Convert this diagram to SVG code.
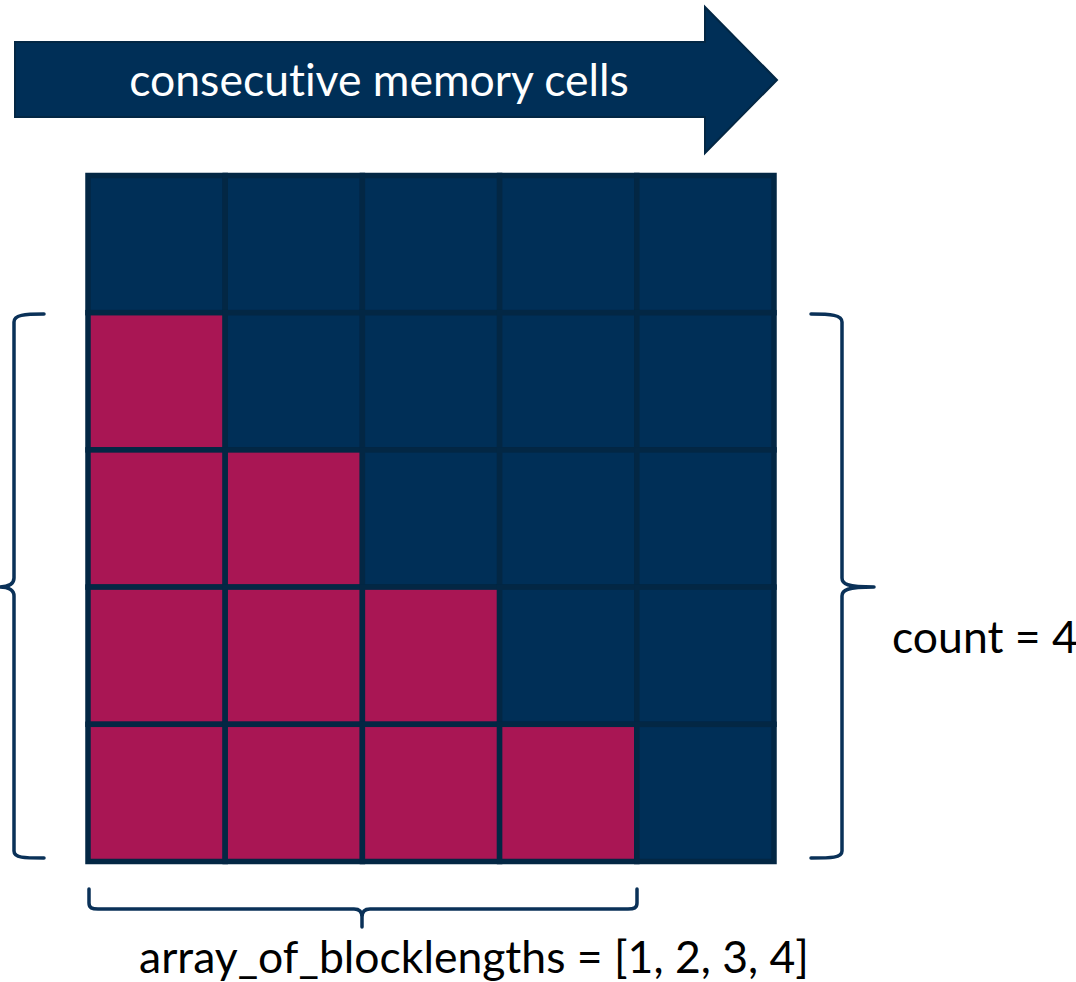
<svg xmlns="http://www.w3.org/2000/svg" width="1076" height="982" viewBox="0 0 1076 982">
<style>
.lbl{font-family:Lato,"Liberation Sans",sans-serif;font-size:44.5px;font-variant-ligatures:none;}
.cell{stroke:#032744;stroke-width:5.5;}
.blue{fill:#002f57;}
.red{fill:#a91654;}
.brace{fill:none;stroke:#0a3158;stroke-width:3.5;stroke-linecap:round;stroke-linejoin:round;}
</style>
<rect width="1076" height="982" fill="#ffffff"/>
<g id="arrow">
<polygon points="15,42 705,42 705,7 777,80 705,153 705,117 15,117" fill="#002f57" stroke="#032744" stroke-width="2"/>
<text class="lbl" x="379" y="96" text-anchor="middle" fill="#ffffff">consecutive memory cells</text>
</g>
<g id="grid">
<rect class="cell blue" x="88" y="175.5" width="137.2" height="137.2"/>
<rect class="cell blue" x="225.2" y="175.5" width="137.2" height="137.2"/>
<rect class="cell blue" x="362.4" y="175.5" width="137.2" height="137.2"/>
<rect class="cell blue" x="499.6" y="175.5" width="137.2" height="137.2"/>
<rect class="cell blue" x="636.8" y="175.5" width="137.2" height="137.2"/>
<rect class="cell red" x="88" y="312.7" width="137.2" height="137.2"/>
<rect class="cell blue" x="225.2" y="312.7" width="137.2" height="137.2"/>
<rect class="cell blue" x="362.4" y="312.7" width="137.2" height="137.2"/>
<rect class="cell blue" x="499.6" y="312.7" width="137.2" height="137.2"/>
<rect class="cell blue" x="636.8" y="312.7" width="137.2" height="137.2"/>
<rect class="cell red" x="88" y="449.9" width="137.2" height="137.2"/>
<rect class="cell red" x="225.2" y="449.9" width="137.2" height="137.2"/>
<rect class="cell blue" x="362.4" y="449.9" width="137.2" height="137.2"/>
<rect class="cell blue" x="499.6" y="449.9" width="137.2" height="137.2"/>
<rect class="cell blue" x="636.8" y="449.9" width="137.2" height="137.2"/>
<rect class="cell red" x="88" y="587.1" width="137.2" height="137.2"/>
<rect class="cell red" x="225.2" y="587.1" width="137.2" height="137.2"/>
<rect class="cell red" x="362.4" y="587.1" width="137.2" height="137.2"/>
<rect class="cell blue" x="499.6" y="587.1" width="137.2" height="137.2"/>
<rect class="cell blue" x="636.8" y="587.1" width="137.2" height="137.2"/>
<rect class="cell red" x="88" y="724.3" width="137.2" height="137.2"/>
<rect class="cell red" x="225.2" y="724.3" width="137.2" height="137.2"/>
<rect class="cell red" x="362.4" y="724.3" width="137.2" height="137.2"/>
<rect class="cell red" x="499.6" y="724.3" width="137.2" height="137.2"/>
<rect class="cell blue" x="636.8" y="724.3" width="137.2" height="137.2"/>
</g>
<g id="braces">
<path class="brace" d="M44,314 C24,314 14,315 14,322 L14,578 C14,584 9,587 -2,587 C9,587 14,590 14,596 L14,851 C14,858 24,858 44,858"/>
<path class="brace" d="M811,314 C831,314 842,315 842,322 L842,578 C842,584 847,587 874,587 C847,587 842,590 842,596 L842,851 C842,858 831,858 811,858"/>
<path class="brace" d="M89,889 L89,903 C89,908 92,909 98,909 L354,909 C359,909 362,911 362,917 L362,927 M362,917 C362,911 365,909 370,909 L628,909 C634,909 637,908 637,903 L637,889"/>
</g>
<g id="labels">
<text class="lbl" x="892" y="653" fill="#000000">count = 4</text>
<text class="lbl" x="474" y="973" text-anchor="middle" fill="#000000">array_of_blocklengths = [1, 2, 3, 4]</text>
</g>
</svg>
